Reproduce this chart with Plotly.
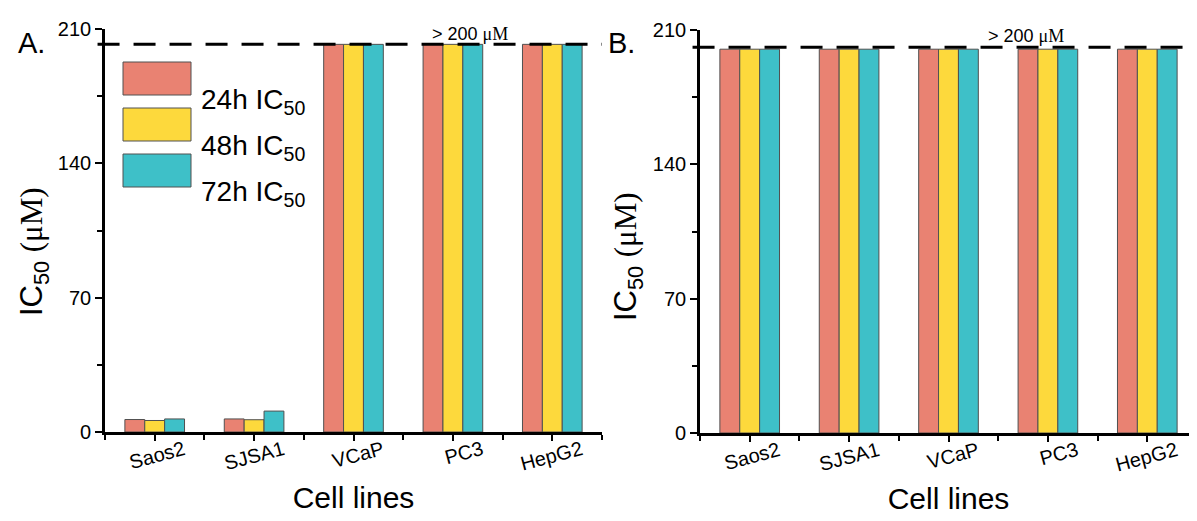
import plotly.graph_objects as go

categories = ["Saos2", "SJSA1", "VCaP", "PC3", "HepG2"]
series_names = ["24h", "48h", "72h"]
colors = ["#E98272", "#FDD93C", "#3EC0C8"]

# Panel A values (µM); >200 shown capped at the threshold line
a_24h = [6.5, 6.8, 202, 202, 202]
a_48h = [6.0, 6.4, 202, 202, 202]
a_72h = [6.8, 10.9, 202, 202, 202]
# Panel B values (µM)
b_24h = [200, 200, 200, 200, 200]
b_48h = [200, 200, 200, 200, 200]
b_72h = [200, 200, 200, 200, 200]

threshold_a = 202
threshold_b = 201
y_ticks = [0, 70, 140, 210]
y_max = 210

panel_a = [a_24h, a_48h, a_72h]
panel_b = [b_24h, b_48h, b_72h]
xpos = list(range(len(categories)))

fig = go.Figure()
for vals, name, col in zip(panel_a, series_names, colors):
    fig.add_trace(go.Bar(x=xpos, y=vals, name=name, marker=dict(color=col, line=dict(color="#505050", width=1)),
                         xaxis="x", yaxis="y", showlegend=False, offsetgroup=name))
for vals, name, col in zip(panel_b, series_names, colors):
    fig.add_trace(go.Bar(x=xpos, y=vals, name=name, marker=dict(color=col, line=dict(color="#505050", width=1)),
                         xaxis="x2", yaxis="y2", showlegend=False, offsetgroup=name))

# page has an 8px body margin; figure fills the rest of the window
OFF = 8
W, H = 1197 - OFF, 521 - OFF
def px(x):
    return (x - OFF) / W
def py(y):
    return 1 - (y - OFF) / H

axis_common = dict(showline=True, linecolor="black", linewidth=2.6, ticks="outside", ticklen=7,
                   tickwidth=2, tickcolor="black", showgrid=False, zeroline=False, automargin=False,
                   tickfont=dict(family="Arial, Liberation Sans", size=20, color="black"))

xaxis_common = dict(axis_common)
xaxis_common.update(tickvals=xpos, ticktext=categories, range=[-0.5, len(categories) - 0.5],
                    tickangle=-15, ticklen=6, ticklabelshift=29, ticklabelstandoff=-10,
                    tickfont=dict(family="Arial, Liberation Sans", size=20, color="black"),
                    minor=dict(tick0=0.5, dtick=1, ticks="outside", ticklen=5, tickwidth=2, tickcolor="black"),
                    title=dict(text="Cell lines", font=dict(family="Arial, Liberation Sans", size=30, color="black"),
                               standoff=14))
yaxis_common = dict(axis_common)
yaxis_common.update(range=[0, y_max], tickvals=y_ticks,
                    minor=dict(tick0=35, dtick=70, ticks="outside", ticklen=5, tickwidth=2, tickcolor="black"))

fig.update_layout(
    width=W, height=H, margin=dict(l=0, r=0, t=0, b=0),
    plot_bgcolor="white", paper_bgcolor="white",
    barmode="group", bargap=0.4, bargroupgap=0,
    xaxis=dict(xaxis_common, domain=[px(105), px(602)], anchor="y"),
    yaxis=dict(yaxis_common, domain=[py(432), py(29)], anchor="x"),
    xaxis2=dict(xaxis_common, domain=[px(700), 1.0], anchor="y2"),
    yaxis2=dict(yaxis_common, domain=[py(433), py(30)], anchor="x2"),
)

# threshold dashed lines
for xref, yref, thr in [("x domain", "y", threshold_a), ("x2 domain", "y2", threshold_b)]:
    fig.add_shape(type="line", xref=xref, yref=yref, x0=-0.015, x1=1, y0=thr, y1=thr,
                  line=dict(color="black", width=3, dash="22px,14px"), layer="above")

serif = "font-family:Liberation Serif"
ann = []
# threshold labels
ann.append(dict(text=f"> 200 <span style='{serif}'>μM</span>", x=px(470), y=py(22), xref="paper", yref="paper",
                showarrow=False, font=dict(family="Arial, Liberation Sans", size=18, color="black")))
ann.append(dict(text=f"> 200 <span style='{serif}'>μM</span>", x=px(1066), y=py(24), xref="paper", yref="paper",
                showarrow=False, font=dict(family="Arial, Liberation Sans", size=18, color="black")))
# panel labels
ann.append(dict(text="A.", x=px(16), y=py(25), xref="paper", yref="paper", showarrow=False, xanchor="left",
                font=dict(family="Arial, Liberation Sans", size=29, color="black")))
ann.append(dict(text="B.", x=px(606), y=py(25), xref="paper", yref="paper", showarrow=False, xanchor="left",
                font=dict(family="Arial, Liberation Sans", size=29, color="black")))
# y titles
ytitle = f"IC<sub>50</sub> <span style='{serif}'>(μM)</span>"
ann.append(dict(text=ytitle, x=px(12), y=py(252), xref="paper", yref="paper", showarrow=False, textangle=-90,
                xanchor="left", font=dict(family="Arial, Liberation Sans", size=31, color="black")))
ann.append(dict(text=ytitle, x=px(606), y=py(256), xref="paper", yref="paper", showarrow=False, textangle=-90,
                xanchor="left", font=dict(family="Arial, Liberation Sans", size=31, color="black")))

# legend (panel A) built from series
for i, (name, col) in enumerate(zip(series_names, colors)):
    top = 62 + i * 46
    fig.add_shape(type="rect", xref="paper", yref="paper", x0=px(123), x1=px(191), y0=py(top + 33), y1=py(top),
                  fillcolor=col, line=dict(color="#505050", width=1))
    ann.append(dict(text=f"{name} IC<sub>50</sub>", x=px(199), y=py(top + 20), xref="paper", yref="paper",
                    xanchor="left", showarrow=False,
                    font=dict(family="Arial, Liberation Sans", size=28, color="black")))

fig.update_layout(annotations=ann)
fig.write_html("out.html")
